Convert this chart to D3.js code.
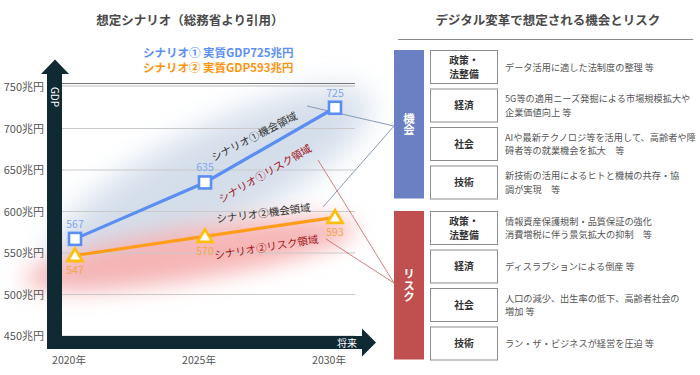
<!DOCTYPE html>
<html><head><meta charset="utf-8">
<script src="https://cdn.jsdelivr.net/npm/d3@7/dist/d3.min.js"></script>
<style>
html,body{margin:0;padding:0;background:#fff;}
svg{display:block;font-family:"Noto Sans CJK JP","Noto Sans",sans-serif;}
</style></head>
<body>
<svg id="c" width="700" height="375"></svg>
<script>
// ---- data ----
const years = ["2020年", "2025年", "2030年"];
const scenario1 = [567, 635, 725];
const scenario2 = [547, 570, 593];
const yTicks = [450, 500, 550, 600, 650, 700, 750];
const yTickLabels = ["450兆円", "500兆円", "550兆円", "600兆円", "650兆円", "700兆円", "750兆円"];
const legendLabels = ["シナリオ① 実質GDP725兆円", "シナリオ② 実質GDP593兆円"];
const opportunityCats = [["政策・", "法整備"], ["経済"], ["社会"], ["技術"]];
const opportunityDesc = [
  ["データ活用に適した法制度の整理 等"],
  ["5G等の適用ニーズ発掘による市場規模拡大や", "企業価値向上 等"],
  ["AIや最新テクノロジ等を活用して、高齢者や障", "碍者等の就業機会を拡大　等"],
  ["新技術の活用によるヒトと機械の共存・協", "調が実現　等"]
];
const riskCats = [["政策・", "法整備"], ["経済"], ["社会"], ["技術"]];
const riskDesc = [
  ["情報資産保護規制・品質保証の強化", "消費増税に伴う景気拡大の抑制　等"],
  ["ディスラプションによる倒産 等"],
  ["人口の減少、出生率の低下、高齢者社会の", "増加 等"],
  ["ラン・ザ・ビジネスが経営を圧迫 等"]
];

// ---- setup ----
const svg = d3.select("#c");
const dark = "#102a33";
const blue = "#5b8ef2", blueLbl = "#7fa5ee";
const orange = "#ff9c1a", tri = "#ffbe0f", orangeLbl = "#f3a648";

const x = d3.scalePoint().domain(years).range([75, 335]);
const y = d3.scaleLinear().domain([450, 750]).range([336, 87]);

const defs = svg.append("defs");
defs.append("filter").attr("id", "blurB").attr("x", "-50%").attr("y", "-50%").attr("width", "200%").attr("height", "200%")
  .append("feGaussianBlur").attr("stdDeviation", 15);
defs.append("filter").attr("id", "blurR").attr("x", "-50%").attr("y", "-80%").attr("width", "200%").attr("height", "260%")
  .append("feGaussianBlur").attr("stdDeviation", 11);

// titles
svg.append("text").attr("x", 190).attr("y", 25).attr("text-anchor", "middle")
  .attr("font-size", 12.5).attr("font-weight", "bold").attr("fill", "#4a4a4a").text("想定シナリオ（総務省より引用）");
svg.append("text").attr("x", 548).attr("y", 25).attr("text-anchor", "middle")
  .attr("font-size", 12.5).attr("font-weight", "bold").attr("fill", "#4a4a4a").text("デジタル変革で想定される機会とリスク");

// legend
legendLabels.forEach((t, i) => {
  svg.append("text").attr("x", 143).attr("y", 57 + i * 15).attr("font-size", 11.5).attr("font-weight", "bold")
    .attr("fill", i === 0 ? "#5c90f5" : "#ff9410").text(t);
});

// glows
const gB = svg.append("g").attr("filter", "url(#blurB)");
gB.append("ellipse").attr("cx", 210).attr("cy", 180).attr("rx", 178).attr("ry", 50)
  .attr("transform", "rotate(-27 210 180)").attr("fill", "#ccd8e8").attr("opacity", 0.85);
const gR = svg.append("g").attr("filter", "url(#blurR)");
gR.append("ellipse").attr("cx", 190).attr("cy", 254).attr("rx", 168).attr("ry", 26)
  .attr("transform", "rotate(-9 190 254)").attr("fill", "#f6aeae").attr("opacity", 0.9);

// gridlines
const grid = svg.append("g");
yTicks.forEach((v, i) => {
  if (i === yTicks.length - 1) {
    grid.append("line").attr("x1", 60).attr("x2", 355).attr("y1", y(v) - 3.5).attr("y2", y(v) - 3.5).attr("stroke", "#777").attr("stroke-width", 1.2);
    grid.append("line").attr("x1", 60).attr("x2", 355).attr("y1", y(v) - 1).attr("y2", y(v) - 1).attr("stroke", "#bbb").attr("stroke-width", 1);
  } else {
    grid.append("line").attr("x1", 60).attr("x2", 355).attr("y1", y(v)).attr("y2", y(v)).attr("stroke", "#c9c9c9").attr("stroke-width", 1);
  }
  svg.append("text").attr("x", 44).attr("y", y(v) + 4).attr("text-anchor", "end")
    .attr("font-size", 11).attr("fill", "#555").text(yTickLabels[i]);
});

// x labels
years.forEach(yr => {
  svg.append("text").attr("x", x(yr) - 6).attr("y", 364).attr("text-anchor", "middle")
    .attr("font-size", 10.5).attr("fill", "#555").text(yr);
});

// axes arrows
svg.append("rect").attr("x", 47).attr("y", 73).attr("width", 15).attr("height", 276).attr("fill", dark);
svg.append("path").attr("d", "M41,74 L55,59.5 L69,74 Z").attr("fill", dark);
svg.append("rect").attr("x", 47).attr("y", 336).attr("width", 316).attr("height", 13).attr("fill", dark);
svg.append("path").attr("d", "M362,328.5 L376,342.5 L362,356.5 Z").attr("fill", dark);
svg.append("text").attr("transform", "translate(51,97) rotate(90)").attr("text-anchor", "middle")
  .attr("font-size", 10).attr("fill", "#fff").text("GDP");
svg.append("text").attr("x", 347).attr("y", 346.5).attr("text-anchor", "middle")
  .attr("font-size", 10).attr("fill", "#fff").text("将来");

// connector lines
const conn = svg.append("g").attr("fill", "none");
conn.append("line").attr("x1", 307).attr("y1", 106).attr("x2", 394).attr("y2", 126).attr("stroke", "#7d8fb0").attr("stroke-width", 0.9);
conn.append("line").attr("x1", 323).attr("y1", 207).attr("x2", 394).attr("y2", 126).attr("stroke", "#7d8fb0").attr("stroke-width", 0.9);
conn.append("line").attr("x1", 318).attr("y1", 160).attr("x2", 394).attr("y2", 283).attr("stroke", "#c9605d").attr("stroke-width", 0.8);
conn.append("line").attr("x1", 326).attr("y1", 239).attr("x2", 394).attr("y2", 283).attr("stroke", "#c9605d").attr("stroke-width", 0.8);

// region labels
function rl(t, cx, cy, ang, col) {
  svg.append("text").attr("transform", `translate(${cx},${cy}) rotate(${ang})`).attr("text-anchor", "middle")
    .attr("font-size", 10.5).attr("fill", col).text(t);
}
rl("シナリオ①機会領域", 256, 140, -27, "#333");
rl("シナリオ①リスク領域", 267, 177, -30, "#a3161a");
rl("シナリオ②機会領域", 264, 217, -7, "#333");
rl("シナリオ②リスク領域", 267, 251, -9, "#a3161a");

// lines
const line = d3.line().x((d, i) => x(years[i])).y(d => y(d));
svg.append("path").datum(scenario1).attr("d", line).attr("fill", "none").attr("stroke", blue).attr("stroke-width", 3.2);
svg.append("path").datum(scenario2).attr("d", line).attr("fill", "none").attr("stroke", orange).attr("stroke-width", 3.2);

// markers
scenario1.forEach((v, i) => {
  svg.append("rect").attr("x", x(years[i]) - 6).attr("y", y(v) - 6).attr("width", 12).attr("height", 12)
    .attr("fill", "#fff").attr("stroke", blue).attr("stroke-width", 2.6);
  svg.append("text").attr("x", x(years[i])).attr("y", y(v) - 11).attr("text-anchor", "middle")
    .attr("font-size", 10.5).attr("fill", blueLbl).text(v);
});
scenario2.forEach((v, i) => {
  const cx = x(years[i]), cy = y(v);
  svg.append("path").attr("d", `M${cx - 7.5},${cy + 5.5} L${cx},${cy - 7} L${cx + 7.5},${cy + 5.5} Z`)
    .attr("fill", "#fff").attr("stroke", tri).attr("stroke-width", 2.8).attr("stroke-linejoin", "miter");
  svg.append("text").attr("x", cx).attr("y", cy + 19).attr("text-anchor", "middle")
    .attr("font-size", 10.5).attr("fill", orangeLbl).text(v);
});

// right panel
svg.append("line").attr("x1", 398).attr("x2", 693).attr("y1", 39.5).attr("y2", 39.5).attr("stroke", "#8a8a8a").attr("stroke-width", 1);

function panel(top, color, label, cats, descs) {
  const h = 4 * 38.5 - 5.5;
  svg.append("rect").attr("x", 394).attr("y", top).attr("width", 30).attr("height", h).attr("fill", color);
  const mid = top + h / 2;
  svg.append("text").attr("x", 409).attr("y", mid)
    .style("writing-mode", "vertical-rl").attr("text-anchor", "middle")
    .attr("font-size", 11.5).attr("font-weight", "bold").attr("fill", "#fff").text(label);
  cats.forEach((cat, i) => {
    const by = top + i * 38.5;
    svg.append("rect").attr("x", 430.5).attr("y", by + 0.5).attr("width", 67).attr("height", 33)
      .attr("fill", "#fff").attr("stroke", "#8c8c8c").attr("stroke-width", 1);
    cat.forEach((t, j) => {
      svg.append("text").attr("x", 464).attr("y", by + 17 + (j - (cat.length - 1) / 2) * 14 + 3.8)
        .attr("text-anchor", "middle").attr("font-size", 9.8).attr("font-weight", "bold").attr("fill", "#333").text(t);
    });
    const d = descs[i];
    d.forEach((t, j) => {
      svg.append("text").attr("x", 505).attr("y", by + 17 + (j - (d.length - 1) / 2) * 13.5 + 3.5)
        .attr("font-size", 9.2).attr("fill", "#555").text(t);
    });
  });
}
panel(50, "#6a80c2", "機会", opportunityCats, opportunityDesc);
panel(211, "#c0504f", "リスク", riskCats, riskDesc);
</script>
</body></html>
